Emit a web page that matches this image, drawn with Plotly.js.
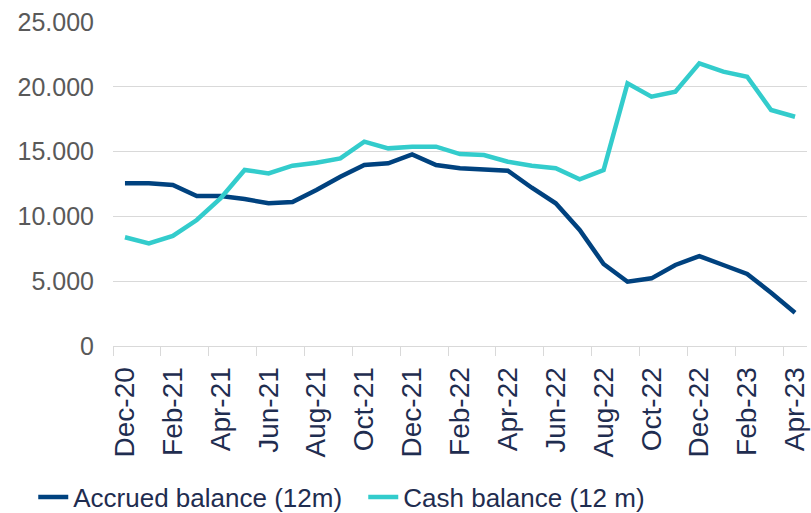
<!DOCTYPE html>
<html>
<head>
<meta charset="utf-8">
<script src="https://cdn.plot.ly/plotly-3.0.1.min.js"></script>
<style>html,body{margin:0;padding:0;background:#fff;}#chart{width:811px;height:513px;}</style>
</head>
<body>
<div id="chart"></div>
<script>
const months = ["Dec-20","Jan-21","Feb-21","Mar-21","Apr-21","May-21","Jun-21","Jul-21","Aug-21","Sep-21","Oct-21","Nov-21","Dec-21","Jan-22","Feb-22","Mar-22","Apr-22","May-22","Jun-22","Jul-22","Aug-22","Sep-22","Oct-22","Nov-22","Dec-22","Jan-23","Feb-23","Mar-23","Apr-23"];
const accruedBalance = [12550,12550,12420,11570,11570,11340,11010,11110,12040,13060,13970,14100,14790,13970,13710,13580,13530,12210,11010,8950,6330,4960,5220,6250,6940,6250,5560,4110,2570];
const cashBalance = [8390,7920,8490,9720,11400,13580,13320,13910,14140,14480,15770,15250,15380,15380,14810,14740,14220,13910,13710,12860,13580,20270,19240,19620,21810,21170,20780,18210,17690];
const seriesNames = ["Accrued balance (12m)", "Cash balance (12 m)"];
const yTicks = [0,5000,10000,15000,20000,25000];

const navy = '#00427F';
const teal = '#33CCCC';
const font = 'Liberation Sans, Arial, sans-serif';

const traces = [
  {x: months, y: accruedBalance, name: seriesNames[0], type: 'scatter', mode: 'lines',
   line: {color: navy, width: 4.5}},
  {x: months, y: cashBalance, name: seriesNames[1], type: 'scatter', mode: 'lines',
   line: {color: teal, width: 4.5}}
];

const layout = {
  width: 811, height: 513,
  margin: {l: 113, r: 4, t: 22, b: 167},
  paper_bgcolor: '#fff', plot_bgcolor: '#fff',
  separators: ',.',
  font: {family: font},
  showlegend: true,
  legend: {orientation: 'h', xref: 'container', yref: 'container', x: 0.041, y: 0.031,
           xanchor: 'left', yanchor: 'middle', font: {size: 26, color: '#1F2D50', family: font},
           itemwidth: 30, tracegroupgap: 0, entrywidth: 285},
  xaxis: {type: 'category', categoryarray: months, range: [-0.5, 28.5],
          tickmode: 'linear', tick0: 0, dtick: 2, tickson: 'boundaries',
          ticks: 'outside', ticklen: 9, tickcolor: '#d9d9d9', tickwidth: 1,
          tickangle: -90, ticklabelstandoff: 9, tickfont: {size: 28, color: '#1F2D50', family: font},
          showline: true, linecolor: '#d9d9d9', linewidth: 1,
          showgrid: false, zeroline: false, fixedrange: true},
  yaxis: {range: [0, 25000], tickvals: yTicks, tickformat: ',d',
          tickfont: {size: 25, color: '#595959', family: font},
          showgrid: true, gridcolor: '#d9d9d9', gridwidth: 1,
          zeroline: false, showline: false, ticks: '', ticklabelstandoff: 18, fixedrange: true}
};

Plotly.newPlot('chart', traces, layout, {displayModeBar: false, staticPlot: true});
</script>
</body>
</html>
